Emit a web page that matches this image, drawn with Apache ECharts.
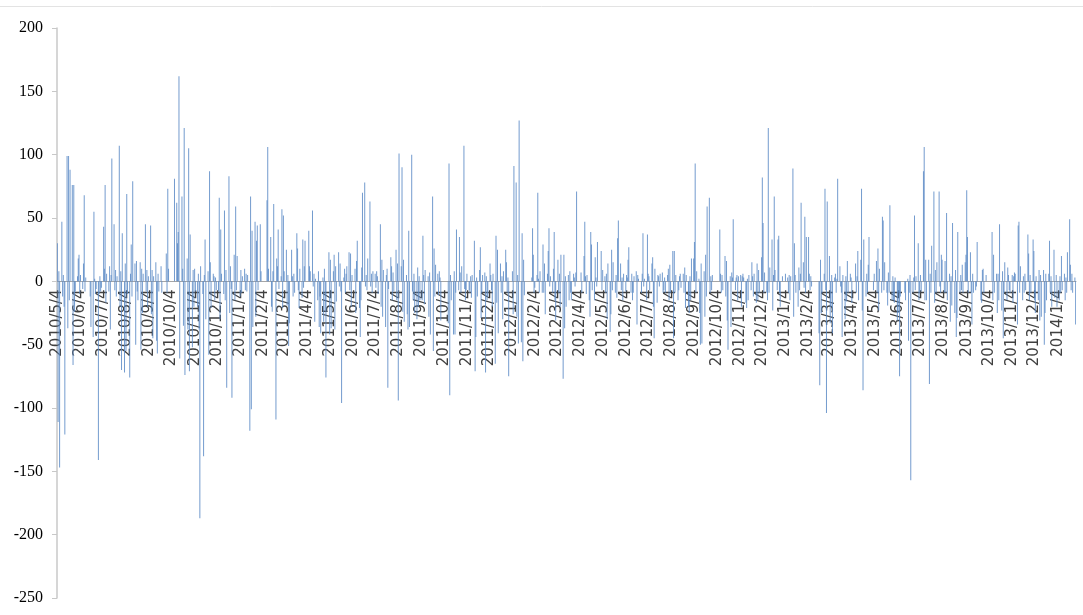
<!DOCTYPE html>
<html>
<head>
<meta charset="utf-8">
<script src="https://cdn.jsdelivr.net/npm/echarts@6/dist/echarts.min.js"></script>
<style>
html,body{margin:0;padding:0;background:#fff;}
#chart{width:1083px;height:615px;}
</style>
</head>
<body>
<div id="chart"></div>
<script>
// Daily values, grouped by period (the 4th of a month to the 3rd of the next), trading days only
const y2010 = [
  [30,-111,8,-147,47,-12,5,-20,-121,99,-37,99,-15,88,76,-66,76,-24,-8,4,18,21,-10],
  [5,-6,14,68,-8,3,-12,-36,-44,55,2,-10,-6,-141,-10,4,-8,-5],
  [43,10,76,-17,6,-8,12,-38,5,97,45,-7,9,-12,4,107,-20,8,-70,38,-72,14],
  [-55,69,-10,-76,6,29,-12,79,14,-50,16,-8,-15,15,-54,10,-25,6,45,-8,9,-20,4],
  [44,-26,9,-45,4,15,-47,-57,6,-8,12,-9,22,-9,73,10],
  [81,62,30,39,162,-61,67,10,-35,121,-74,18,-38,105,-71,37,-52,9,-20],
  [10,-8,-20,6,-38,-187,12,-10,-138,5,33,-30,8,-58,87,15,-21,6,4,-15,3,-7],
  [-8,66,-30,41,6,-10,56,-15,9,-84,83,-25,12,-6,-92,21,-15,59,-7,20]
];
const y2011 = [
  [-12,9,-9,4,10,-7,6,-8,5,-118,67,-101,40,-36,47,-28,32,44,-7,45,8],
  [64,106,10,35,-20,-24,8,61,-109,18,12,41,-6,4,57,-21,52],
  [8,25,-19,5,-51,-33,25,4,-12,6,-9,38,26,-7,-21,10,-13,33,-5,12,32],
  [40,12,8,56,-4,6,-32,2,-15,8,-36,-12,-41,3,-32,10,-23,-76,23],
  [-42,17,-37,8,21,-38,12,-16,23,-4,14,-8,-96,3,10,-9,6,12,23,-7,22,-20,5],
  [10,-25,16,32,-21,-44,-15,11,70,78,-4,5,-7,18,63,-4,6,-9,8],
  [6,-5,8,4,-10,45,-20,17,-28,9,-36,5,10,-84,-6,19,12,-15,7,-8,25,-15,14],
  [-94,101,12,90,-24,17,-32,5,-26,-38,40,-36,100,-8,-15,6,-25,-30,11,-20,4,-15],
  [-15,36,5,-18,9,4,-28,7,-42,67,-55,26,-12,13,6,-11,8,3,-31],
  [-33,93,-90,5,-15,-42,8,-42,-9,41,-7,35,7,-9,12,107,-6,-15,-7],
  [6,-7,-9,4,-13,5,32,-71,-44,3,-12,9,27,-29,-9,5,7,-72,4,-15,-12],
  [14,5,-7,-20,6,-65,36,-17,25,-41,14,-9,4,-30,8,25,15,-9,3,-75]
];
const y2012 = [
  [8,-26,91,78,-28,5,-49,127,-48,38,-63,17,-11,3,42,21,-9,-5],
  [5,70,2,-9,8,-9,29,-9,14,-26,6,24,42,-4,4,-9,10,39,-15,-31],
  [17,-9,6,-20,21,-77,21,-37,4,-20,5,-15,8,-9,-15,6,3,-4,7,71],
  [7,-9,20,47,4,-10,5,-15,-28,39,29,-7,-15,19,3,-4,31,24,-7],
  [9,4,-9,6,-30,14,-40,-26,25,-7,15,-9,5,-13,34,48,14,-7,3,-15,6],
  [-8,5,3,17,27,-9,6,-15,-9,4,8,-34,5,2,-9,6,38,-4,2,-15,37],
  [6,4,-7,14,19,-20,-45,10,-17,5,4,-4,6,7,-9,-7,3,-9,5,10,-15,13,-9],
  [24,-45,24,-9,5,-15,-7,4,6,-5,6,-9,11,-21,5,-20,-25,4,-15,18,18],
  [31,93,-9,8,2,-25,-50,14,-49,8,-28,21,-12,59,66,-9,4,-7,5],
  [41,6,-9,5,-7,20,-12,16,-31,-54,4,-36,7,3,49,-7,3,5,-15,4],
  [5,-20,4,6,3,-17,-21,2,-15,5,-7,15,4,-12,6,-17,14,-15,9,-9,19],
  [82,46,-9,7,-9,-15,121,-9,11,33,-23,5,67,9,-7,33,36,-9,-20,4]
];
const y2013 = [
  [6,3,-9,5,-15,4,89,-28,30,5,-9,-20,11,-7,6,62,15,-5,51,-9,35],
  [35,6,-7,4,-4,-41,-82,17,-25,-9,6,73,-7,-104,63],
  [20,-33,-20,5,-41,3,6,-9,2,81,12,-4,-9,-44,5,-30,4,-16,16,-9,6,3,-17],
  [14,-9,4,24,-15,17,73,-23,-86,33,-12,6,-9,13,35,-7,6],
  [16,-9,26,-23,10,-9,51,48,-7,15,-9,-19,7,-9,60,-15,4,-15,-17,3,-31],
  [-25,-9,-75,-12,-9,-15,2,-47,-9,5,-157,-9,3,52,-7,4,30,-15,-9],
  [5,-8,87,106,-15,17,-15,17,-81,6,-9,28,71,-17,9,-9,15,71,-4,-9,21,17],
  [-9,16,-9,54,-15,6,-32,4,-19,46,-25,9,-44,-29,39,-9,5,-7,13,-9,15,21],
  [72,35,-9,23,-9,-34,6,-9,-7,-4,31,-15,-17,9,10,-9,5],
  [39,-15,21,-9,6,-25,6,-15,45,-23,8,-45,-9,15,-15,11,5,-7,-9],
  [5,-17,4,7,6,-34,44,47,-9,12,-15,4,-9,6,-7,37,22,-15,5,-9,33,24],
  [-15,-25,4,-15,9,-31,5,-28,9,-50,-25,6,-15,6,32,-9,4,-20,25,-13,5,-20]
];
const y2014 = [
  [-15,4,-9,20,-7,6,-15,3,-9,23,49,13,-7,6,-9,3,-34]
];
const holidays = [
  '2010/6/14','2010/6/15','2010/6/16','2010/9/22','2010/9/23','2010/9/24','2010/10/1','2010/10/4','2010/10/5','2010/10/6','2010/10/7',
  '2011/1/3','2011/2/2','2011/2/3','2011/2/4','2011/2/7','2011/2/8','2011/4/4','2011/4/5','2011/5/2','2011/6/6','2011/9/12','2011/10/3','2011/10/4','2011/10/5','2011/10/6','2011/10/7',
  '2012/1/2','2012/1/3','2012/1/23','2012/1/24','2012/1/25','2012/1/26','2012/1/27','2012/4/2','2012/4/3','2012/4/4','2012/4/30','2012/5/1','2012/6/22','2012/10/1','2012/10/2','2012/10/3','2012/10/4','2012/10/5',
  '2013/1/1','2013/1/2','2013/1/3','2013/2/11','2013/2/12','2013/2/13','2013/2/14','2013/2/15','2013/4/4','2013/4/5','2013/4/29','2013/4/30','2013/5/1','2013/6/10','2013/6/11','2013/6/12','2013/9/19','2013/9/20','2013/10/1','2013/10/2','2013/10/3','2013/10/4','2013/10/7',
  '2014/1/1'
];
const firstDay = [2010, 5, 4];
const lastDay = [2014, 1, 28];
const yMin = -250, yMax = 200, yStep = 50;

// build calendar categories and assign values to trading days
const periods = [].concat(y2010, y2011, y2012, y2013, y2014);
const holidaySet = new Set(holidays);
const categories = [];
const values = [];
const counters = {};
let t = Date.UTC(firstDay[0], firstDay[1] - 1, firstDay[2]);
const tEnd = Date.UTC(lastDay[0], lastDay[1] - 1, lastDay[2]);
while (t <= tEnd) {
  const d = new Date(t);
  const y = d.getUTCFullYear(), m = d.getUTCMonth() + 1, day = d.getUTCDate(), dow = d.getUTCDay();
  const label = y + '/' + m + '/' + day;
  categories.push(label);
  let v = null;
  if (dow !== 0 && dow !== 6 && !holidaySet.has(label)) {
    let p = (y - firstDay[0]) * 12 + (m - firstDay[1]);
    if (day < 4) p -= 1;
    const arr = periods[p];
    const i = counters[p] || 0;
    counters[p] = i + 1;
    if (arr && i < arr.length) v = arr[i];
  }
  values.push(v);
  t += 86400000;
}

const gridTop = 28, gridBottom = 17, H = 615;
const plotH = H - gridTop - gridBottom;
// distance from grid bottom to the zero line, so the category axis sits on y = 0
const zeroOffset = plotH * (0 - yMin) / (yMax - yMin);

const chart = echarts.init(document.getElementById('chart'), null, {renderer: 'canvas'});
chart.setOption({
  animation: false,
  backgroundColor: '#ffffff',
  graphic: [{
    type: 'line', shape: {x1: 0, y1: 6.5, x2: 1083, y2: 6.5},
    style: {stroke: '#e3e3e3', lineWidth: 1}
  }],
  grid: {left: 57, right: 7, top: gridTop, bottom: gridBottom, containLabel: false, outerBoundsMode: 'none'},
  xAxis: {
    type: 'category',
    data: categories,
    position: 'bottom',
    offset: -zeroOffset,
    boundaryGap: true,
    axisLine: {onZero: false, lineStyle: {color: '#a6a6a6', width: 1}},
    axisTick: {show: false},
    axisLabel: {
      interval: function (index, value) { return value.split('/')[2] === '4'; },
      rotate: 90,
      margin: 8,
      color: '#404040',
      fontFamily: 'DejaVu Sans',
      fontSize: 15,
      hideOverlap: false
    },
    splitLine: {show: false}
  },
  yAxis: {
    type: 'value',
    min: yMin, max: yMax, interval: yStep,
    axisLine: {show: true, lineStyle: {color: '#c8c8c8', width: 1.5}},
    axisTick: {show: true, length: 5, lineStyle: {color: '#c8c8c8'}},
    axisLabel: {color: '#000', fontFamily: 'Liberation Serif', fontSize: 16, margin: 14},
    splitLine: {show: false}
  },
  series: [{
    type: 'bar',
    data: values,
    barCategoryGap: '0%',
    itemStyle: {color: '#5a8ac6', opacity: 0.85}
  }]
});
</script>
</body>
</html>
